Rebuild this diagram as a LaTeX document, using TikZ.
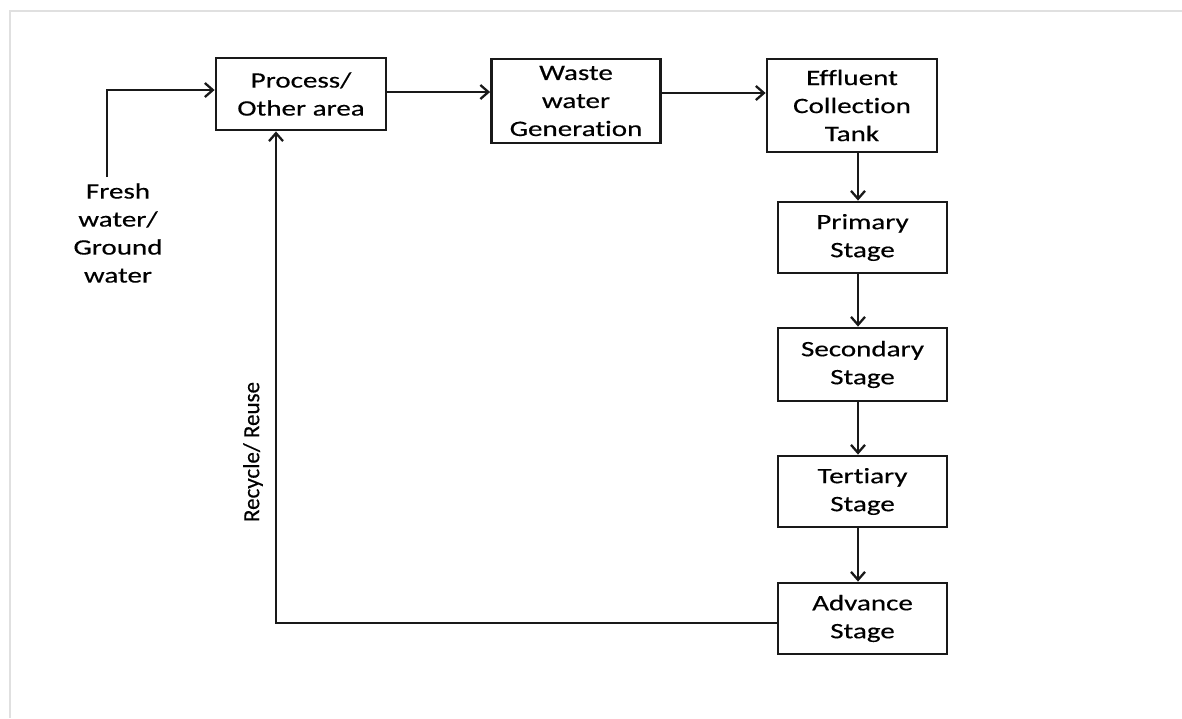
\documentclass[tikz,border=0pt]{standalone}
\usepackage{fontspec}
\setmainfont{Carlito}[FakeStretch=1.32,FakeBold=0.4,Ligatures=NoCommon]
\newfontfamily\labelfont{Carlito}[FakeBold=0.4,Ligatures=NoCommon]
\usetikzlibrary{arrows.meta}
\begin{document}
\begin{tikzpicture}[x=1pt,y=-1pt,
  box/.style={draw=black!90, line width=2.8pt, inner sep=0pt, align=center,
    font=\fontsize{22}{28}\selectfont},
  arr/.style={draw=black!90, line width=2.6pt, -{Straight Barb[length=8pt,width=14pt,line width=2.3pt]}},
  frame/.style={draw=black!12, line width=1.5pt}]
\useasboundingbox (0,0) rectangle (1182,718);
% light page frame (top and left edges)
\draw[frame] (10,718) -- (10,11) -- (1182,11);

% process chain
\node[box, minimum width=170pt, minimum height=72pt] (proc) at (301,94) {Process/\\Other area};
\node[box, minimum width=169pt, minimum height=84pt] (waste) at (576,101) {Waste\\water\\Generation};
\node[box, minimum width=170pt, minimum height=93pt] (eff) at (852,105.5) {Effluent\\Collection\\Tank};

% treatment stages
\node[box, minimum width=169pt, minimum height=71pt] (prim) at (862.5,237.5) {Primary\\Stage};
\node[box, minimum width=169pt, minimum height=73pt] (sec) at (862.5,364.5) {Secondary\\Stage};
\node[box, minimum width=169pt, minimum height=71pt] (ter) at (862.5,491.5) {Tertiary\\Stage};
\node[box, minimum width=169pt, minimum height=71pt] (adv) at (862.5,618.5) {Advance\\Stage};

% source of fresh water
\node[align=center, font=\fontsize{22}{28}\selectfont] (fresh) at (118,233) {Fresh\\water/\\Ground\\water};
\coordinate (fwtop) at (107,177);
\draw[arr] (fwtop) |- (proc.west |- 0,90);

% main flow
\draw[arr] (proc.east |- 0,92) -- (waste.west |- 0,92);
\draw[arr] (waste.east |- 0,93) -- (eff.west |- 0,93);
\draw[arr] (eff.south -| 858,0) -- (prim.north -| 858,0);
\draw[arr] (prim.south -| 858,0) -- (sec.north -| 858,0);
\draw[arr] (sec.south -| 858,0) -- (ter.north -| 858,0);
\draw[arr] (ter.south -| 858,0) -- (adv.north -| 858,0);

% recycle loop back to the process area
\draw[arr] (adv.west |- 0,623) -| (proc.south -| 276,0);
\node[rotate=90, font=\labelfont\fontsize{23}{26}\selectfont] (recycle) at (253,452) {Recycle/ Reuse};
\end{tikzpicture}
\end{document}
